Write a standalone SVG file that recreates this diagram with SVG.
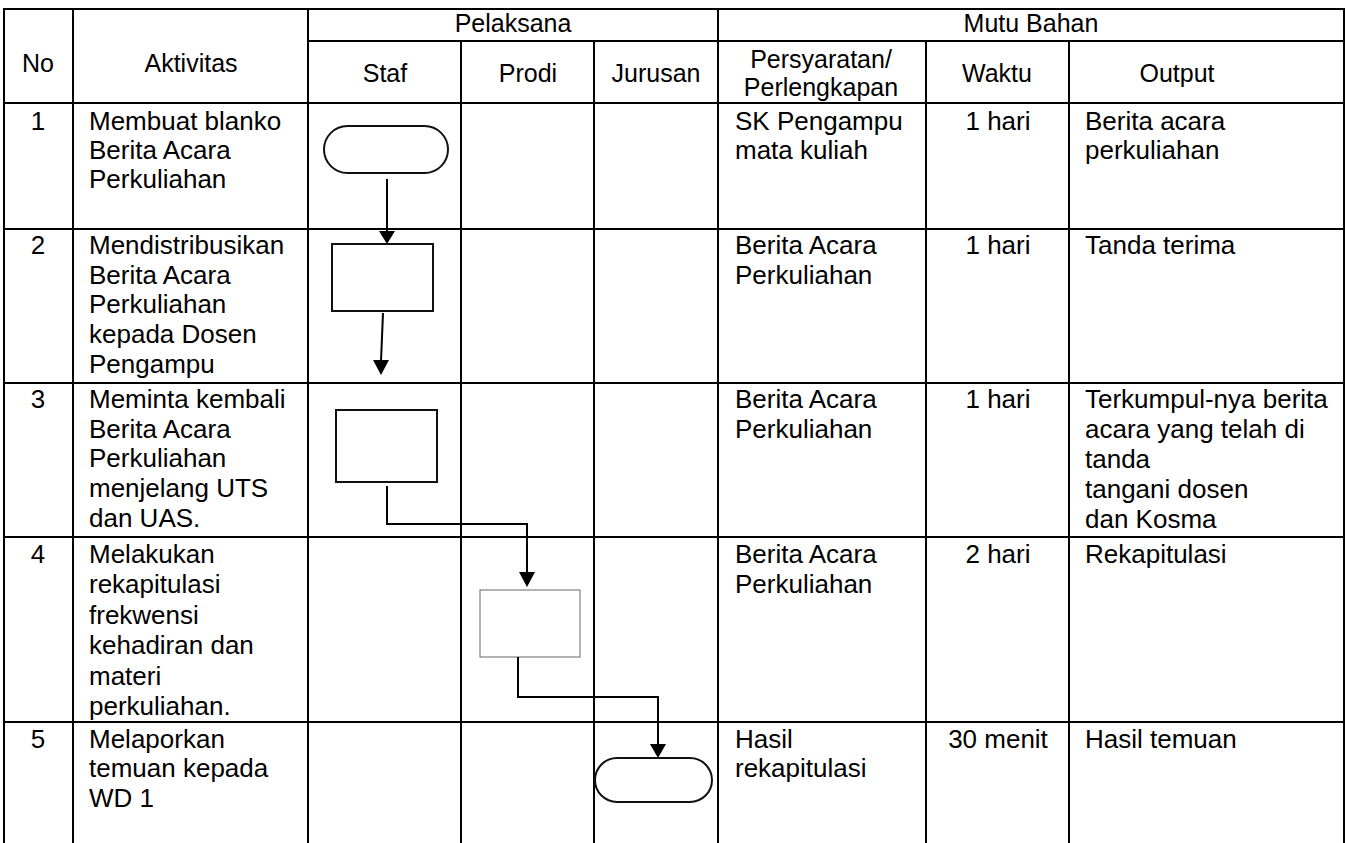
<svg xmlns="http://www.w3.org/2000/svg" width="1345" height="843" viewBox="0 0 1345 843">
<defs>
<style>
.t{font-family:"Liberation Sans",Arial,sans-serif;font-size:26px;fill:#000}
.h{font-family:"Liberation Sans",Arial,sans-serif;font-size:25px;fill:#000}
.c{text-anchor:middle}
.grid line{stroke:#000;stroke-width:2}
.shape{fill:#fff;stroke:#111;stroke-width:2}
.conn{fill:none;stroke:#000;stroke-width:2}
.head{fill:#000}
</style>
</defs>
<rect width="1345" height="843" fill="#fff"/>
<g id="grid" class="grid">
<line x1="4" y1="9" x2="1345" y2="9"/>
<line x1="308" y1="41" x2="1345" y2="41"/>
<line x1="4" y1="103" x2="1345" y2="103"/>
<line x1="4" y1="229" x2="1345" y2="229"/>
<line x1="4" y1="383" x2="1345" y2="383"/>
<line x1="4" y1="537" x2="1345" y2="537"/>
<line x1="4" y1="722" x2="1345" y2="722"/>
<line x1="4" y1="8" x2="4" y2="843"/>
<line x1="73" y1="8" x2="73" y2="843"/>
<line x1="308" y1="8" x2="308" y2="843"/>
<line x1="461" y1="41" x2="461" y2="843"/>
<line x1="594" y1="41" x2="594" y2="843"/>
<line x1="718" y1="8" x2="718" y2="843"/>
<line x1="926" y1="41" x2="926" y2="843"/>
<line x1="1069" y1="41" x2="1069" y2="843"/>
<line x1="1344" y1="8" x2="1344" y2="843"/>
</g>
<g id="header">
<text class="h c" x="38" y="72">No</text>
<text class="h c" x="191" y="72">Aktivitas</text>
<text class="h c" x="513" y="32">Pelaksana</text>
<text class="h c" x="1031" y="32">Mutu Bahan</text>
<text class="h c" x="385" y="82">Staf</text>
<text class="h c" x="528" y="82">Prodi</text>
<text class="h c" x="656" y="82">Jurusan</text>
<text class="h c" x="821" y="68">Persyaratan/</text>
<text class="h c" x="821" y="96">Perlengkapan</text>
<text class="h c" x="997" y="82">Waktu</text>
<text class="h c" x="1177" y="82">Output</text>
</g>
<g id="row1">
<text class="t c" x="38" y="130">1</text>
<text class="t" x="89" y="130">Membuat blanko<tspan x="89" y="159">Berita Acara</tspan><tspan x="89" y="188">Perkuliahan</tspan></text>
<text class="t" x="735" y="130">SK Pengampu<tspan x="735" y="159">mata kuliah</tspan></text>
<text class="t c" x="998" y="130">1 hari</text>
<text class="t" x="1085" y="130">Berita acara<tspan x="1085" y="159">perkuliahan</tspan></text>
</g>
<g id="row2">
<text class="t c" x="38" y="254">2</text>
<text class="t" x="89" y="254">Mendistribusikan<tspan x="89" y="284">Berita Acara</tspan><tspan x="89" y="313">Perkuliahan</tspan><tspan x="89" y="343">kepada Dosen</tspan><tspan x="89" y="373">Pengampu</tspan></text>
<text class="t" x="735" y="254">Berita Acara<tspan x="735" y="284">Perkuliahan</tspan></text>
<text class="t c" x="998" y="254">1 hari</text>
<text class="t" x="1085" y="254">Tanda terima</text>
</g>
<g id="row3">
<text class="t c" x="38" y="408">3</text>
<text class="t" x="89" y="408">Meminta kembali<tspan x="89" y="438">Berita Acara</tspan><tspan x="89" y="467">Perkuliahan</tspan><tspan x="89" y="497">menjelang UTS</tspan><tspan x="89" y="527">dan UAS.</tspan></text>
<text class="t" x="735" y="408">Berita Acara<tspan x="735" y="438">Perkuliahan</tspan></text>
<text class="t c" x="998" y="408">1 hari</text>
<text class="t" x="1085" y="408">Terkumpul-nya berita<tspan x="1085" y="438">acara yang telah di</tspan><tspan x="1085" y="468">tanda</tspan><tspan x="1085" y="498">tangani dosen</tspan><tspan x="1085" y="528">dan Kosma</tspan></text>
</g>
<g id="row4">
<text class="t c" x="38" y="563">4</text>
<text class="t" x="89" y="563">Melakukan<tspan x="89" y="593">rekapitulasi</tspan><tspan x="89" y="624">frekwensi</tspan><tspan x="89" y="654">kehadiran dan</tspan><tspan x="89" y="685">materi</tspan><tspan x="89" y="715">perkuliahan.</tspan></text>
<text class="t" x="735" y="563">Berita Acara<tspan x="735" y="593">Perkuliahan</tspan></text>
<text class="t c" x="998" y="563">2 hari</text>
<text class="t" x="1085" y="563">Rekapitulasi</text>
</g>
<g id="row5">
<text class="t c" x="38" y="748">5</text>
<text class="t" x="89" y="748">Melaporkan<tspan x="89" y="777">temuan kepada</tspan><tspan x="89" y="807">WD 1</tspan></text>
<text class="t" x="735" y="748">Hasil<tspan x="735" y="777">rekapitulasi</tspan></text>
<text class="t c" x="998" y="748">30 menit</text>
<text class="t" x="1085" y="748">Hasil temuan</text>
</g>
<g id="node-start"><rect class="shape" x="324" y="126" width="124" height="47" rx="23.5"/></g>
<g id="node-distribusi"><rect class="shape" x="332" y="244" width="101" height="67"/></g>
<g id="node-minta"><rect class="shape" x="336" y="410" width="101" height="72"/></g>
<g id="node-rekap"><rect x="480" y="590" width="100" height="67" fill="#fff" stroke="#666" stroke-width="1"/></g>
<g id="node-end"><rect class="shape" x="595" y="758" width="117" height="44" rx="22"/></g>
<g id="connectors">
<line class="conn" x1="387" y1="179" x2="387" y2="232"/>
<polygon class="head" points="379,231 395,231 387,244"/>
<line class="conn" x1="383" y1="313" x2="381" y2="361"/>
<polygon class="head" points="373,360 389,360 381,375"/>
<path class="conn" d="M387,486 V524 H527 V573"/>
<polygon class="head" points="519,572 535,572 527,587"/>
<path class="conn" d="M518,657 V697 H658 V745"/>
<polygon class="head" points="650,744 666,744 658,758"/>
</g>
</svg>
